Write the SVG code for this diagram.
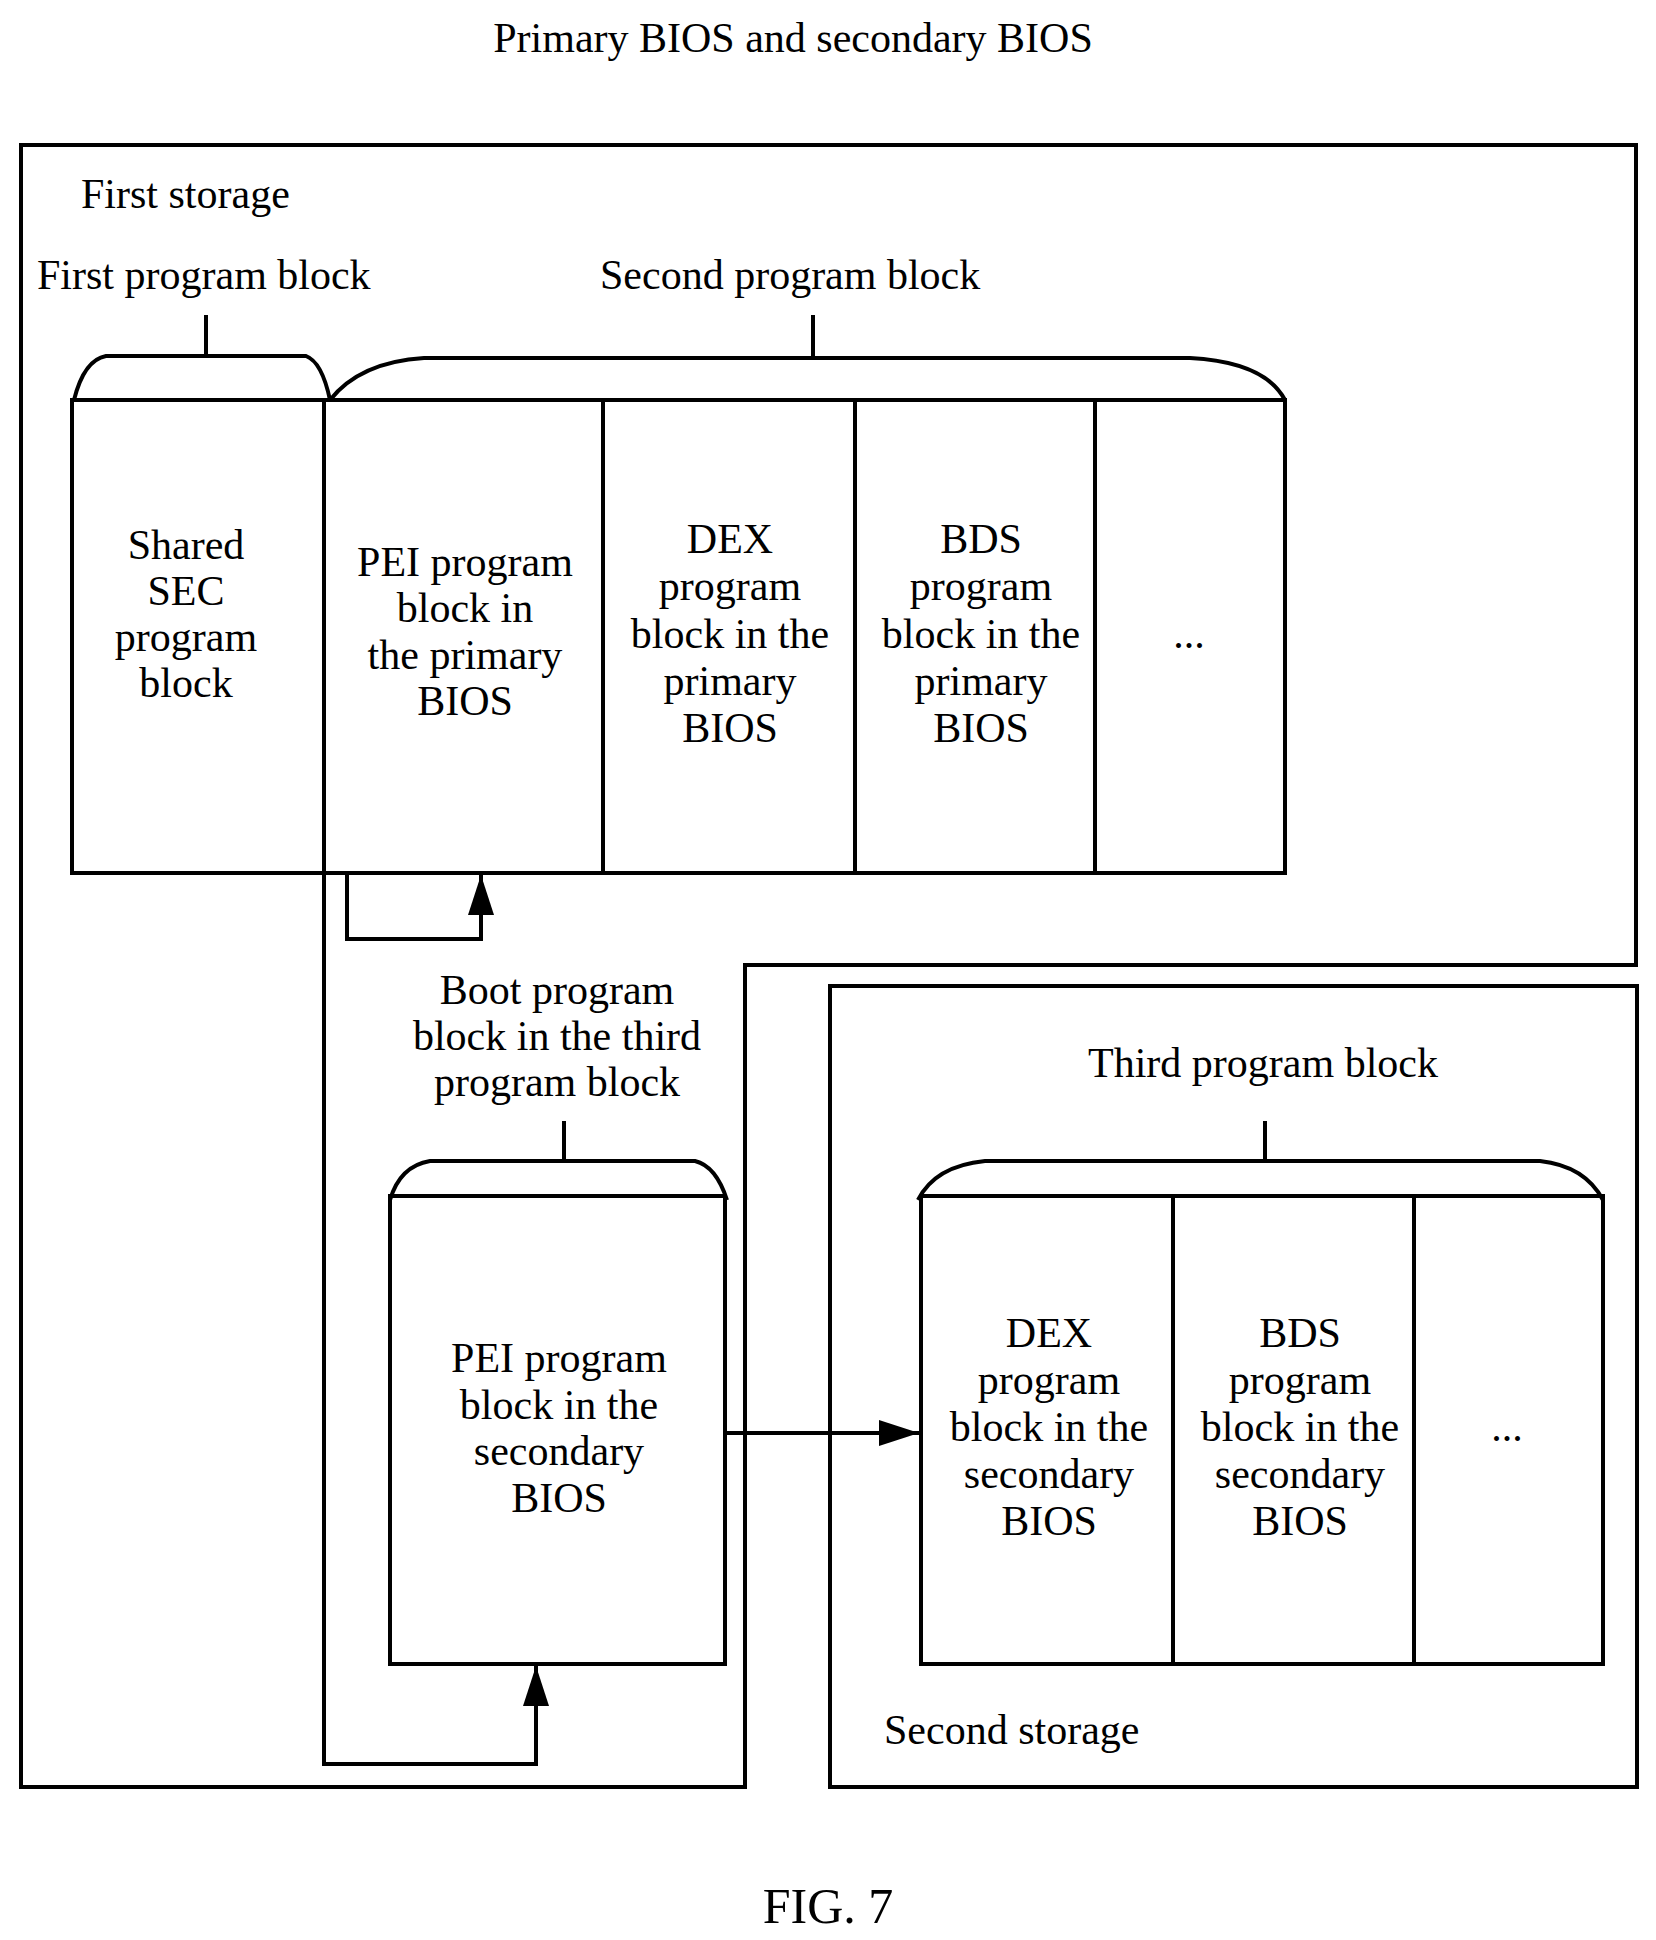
<svg xmlns="http://www.w3.org/2000/svg" width="1656" height="1940" viewBox="0 0 1656 1940">
<style>
.s{fill:none;stroke:#000;stroke-width:4}
text{font-family:"Liberation Serif","Times New Roman",serif;font-size:42px;fill:#000}
.c{text-anchor:middle}
</style>
<defs>
<marker id="a" markerUnits="userSpaceOnUse" markerWidth="40" markerHeight="30" refX="40" refY="13" orient="auto">
<path d="M0,0 L40,13 L0,26 z" fill="#000"/>
</marker>
</defs>
<rect width="1656" height="1940" fill="#fff"/>
<text class="c" x="793" y="52">Primary BIOS and secondary BIOS</text>
<g id="first-storage">
<path class="s" d="M21,145 H1636 V965 H745 V1787 H21 Z"/>
<text x="81" y="208">First storage</text>
</g>
<g id="second-storage">
<rect class="s" x="830" y="986" width="807" height="801"/>
<text x="884" y="1744">Second storage</text>
</g>
<g id="first-program-block">
<text x="37" y="289">First program block</text>
<path class="s" d="M206,315 V356 M74,400 Q84,360 106,356 H306 Q322,362 330,400"/>
</g>
<g id="second-program-block">
<text x="600" y="289">Second program block</text>
<path class="s" d="M813,315 V358 M330,400 Q360,362 424,358 H1190 Q1265,362 1285,400"/>
</g>
<g id="shared-sec">
<rect class="s" x="72" y="400" width="252" height="473"/>
<text class="c"><tspan x="186" y="559">Shared</tspan><tspan x="186" y="605">SEC</tspan><tspan x="186" y="651">program</tspan><tspan x="186" y="697">block</tspan></text>
</g>
<g id="pei-primary">
<rect class="s" x="324" y="400" width="279" height="473"/>
<text class="c"><tspan x="465" y="576">PEI program</tspan><tspan x="465" y="622">block in</tspan><tspan x="465" y="669">the primary</tspan><tspan x="465" y="715">BIOS</tspan></text>
</g>
<g id="dex-primary">
<rect class="s" x="603" y="400" width="252" height="473"/>
<text class="c"><tspan x="730" y="553">DEX</tspan><tspan x="730" y="600">program</tspan><tspan x="730" y="648">block in the</tspan><tspan x="730" y="695">primary</tspan><tspan x="730" y="742">BIOS</tspan></text>
</g>
<g id="bds-primary">
<rect class="s" x="855" y="400" width="240" height="473"/>
<text class="c"><tspan x="981" y="553">BDS</tspan><tspan x="981" y="600">program</tspan><tspan x="981" y="648">block in the</tspan><tspan x="981" y="695">primary</tspan><tspan x="981" y="742">BIOS</tspan></text>
</g>
<g id="more-primary">
<rect class="s" x="1095" y="400" width="190" height="473"/>
<text class="c" x="1189" y="648">...</text>
</g>
<g id="boot-program-block">
<text class="c"><tspan x="557" y="1004">Boot program</tspan><tspan x="557" y="1050">block in the third</tspan><tspan x="557" y="1096">program block</tspan></text>
<path class="s" d="M564,1121 V1161 M390,1200 Q400,1166 430,1161 H695 Q716,1166 727,1200"/>
</g>
<g id="pei-secondary">
<rect class="s" x="390" y="1196" width="335" height="468"/>
<text class="c"><tspan x="559" y="1372">PEI program</tspan><tspan x="559" y="1419">block in the</tspan><tspan x="559" y="1465">secondary</tspan><tspan x="559" y="1512">BIOS</tspan></text>
</g>
<g id="third-program-block">
<text class="c" x="1263" y="1077">Third program block</text>
<path class="s" d="M1265,1121 V1161 M918,1200 Q935,1166 985,1161 H1540 Q1585,1166 1603,1200"/>
</g>
<g id="dex-secondary">
<rect class="s" x="921" y="1196" width="252" height="468"/>
<text class="c"><tspan x="1049" y="1347">DEX</tspan><tspan x="1049" y="1394">program</tspan><tspan x="1049" y="1441">block in the</tspan><tspan x="1049" y="1488">secondary</tspan><tspan x="1049" y="1535">BIOS</tspan></text>
</g>
<g id="bds-secondary">
<rect class="s" x="1173" y="1196" width="241" height="468"/>
<text class="c"><tspan x="1300" y="1347">BDS</tspan><tspan x="1300" y="1394">program</tspan><tspan x="1300" y="1441">block in the</tspan><tspan x="1300" y="1488">secondary</tspan><tspan x="1300" y="1535">BIOS</tspan></text>
</g>
<g id="more-secondary">
<rect class="s" x="1414" y="1196" width="189" height="468"/>
<text class="c" x="1507" y="1441">...</text>
</g>
<g id="connectors">
<path class="s" d="M347,873 V939 H481 V875" marker-end="url(#a)"/>
<path class="s" d="M324,873 V1764 H536 V1666" marker-end="url(#a)"/>
<path class="s" d="M725,1433 H919" marker-end="url(#a)"/>
</g>
<text class="c" x="828" y="1923" style="font-size:50px">FIG. 7</text>
</svg>
